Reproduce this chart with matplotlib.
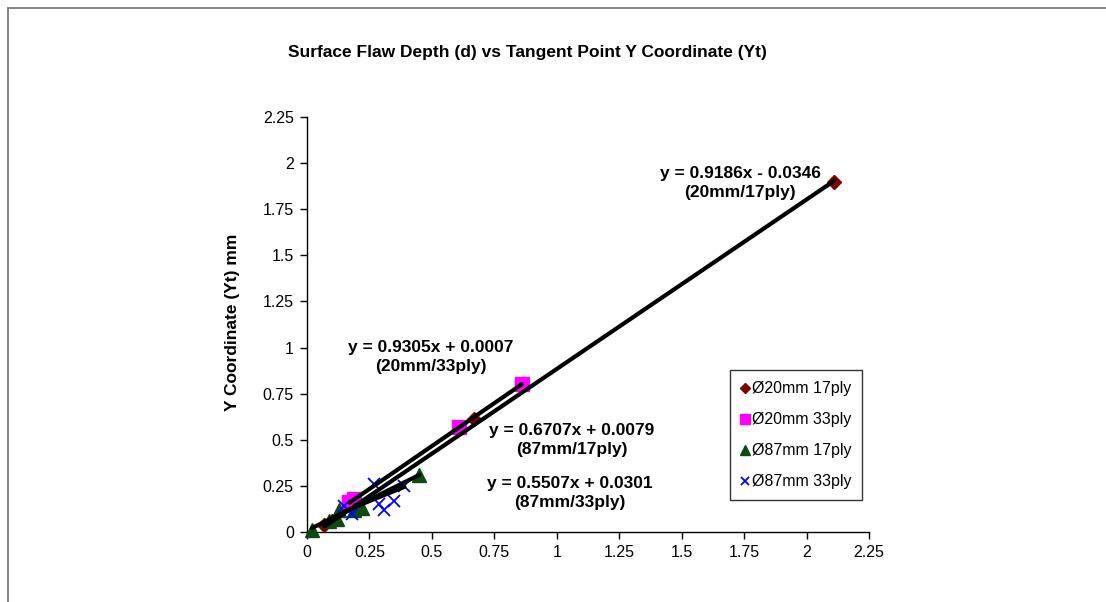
import matplotlib
matplotlib.use("Agg")
import matplotlib.pyplot as plt
from matplotlib.patches import Rectangle
import numpy as np

plt.rcParams['font.family'] = ['Liberation Sans', 'DejaVu Sans']

# Data
d20_17_x = [0.07, 0.10, 0.67, 2.11]
d20_17_y = [0.04, 0.06, 0.61, 1.90]
d20_33_x = [0.17, 0.19, 0.61, 0.86]
d20_33_y = [0.16, 0.18, 0.57, 0.80]
d87_17_x = [0.02, 0.09, 0.12, 0.13, 0.19, 0.22, 0.45]
d87_17_y = [0.01, 0.06, 0.07, 0.12, 0.12, 0.13, 0.31]
d87_33_x = [0.15, 0.18, 0.27, 0.29, 0.31, 0.35, 0.39]
d87_33_y = [0.14, 0.10, 0.26, 0.15, 0.12, 0.17, 0.25]

labels = ["Ø20mm 17ply", "Ø20mm 33ply", "Ø87mm 17ply", "Ø87mm 33ply"]
slopes = [0.9186, 0.9305, 0.6707, 0.5507]
intercepts = [-0.0346, 0.0007, 0.0079, 0.0301]
eq_texts = ["y = 0.9186x - 0.0346\n(20mm/17ply)",
            "y = 0.9305x + 0.0007\n(20mm/33ply)",
            "y = 0.6707x + 0.0079\n(87mm/17ply)",
            "y = 0.5507x + 0.0301\n(87mm/33ply)"]
ticks = [0, 0.25, 0.5, 0.75, 1, 1.25, 1.5, 1.75, 2, 2.25]
tick_labels = ["0", "0.25", "0.5", "0.75", "1", "1.25", "1.5", "1.75", "2", "2.25"]

W, H = 1106, 602
fig = plt.figure(figsize=(W / 100, H / 100), dpi=100)
fig.patch.set_facecolor('white')

# outer frame (partially visible)
fig.add_artist(Rectangle((8 / W, -0.1), 1.2, 1 - 8 / H + 0.1, transform=fig.transFigure,
                         fill=False, edgecolor='#7a7a7a', lw=1.3))

ax = fig.add_axes([307 / W, 1 - 532 / H, (869 - 307) / W, (532 - 117) / H])
ax.set_xlim(0, 2.25)
ax.set_ylim(0, 2.25)
for s in ['top', 'right']:
    ax.spines[s].set_visible(False)
for s in ['left', 'bottom']:
    ax.spines[s].set_linewidth(1.0)
    ax.spines[s].set_color('black')
ax.set_xticks(ticks)
ax.set_xticklabels(tick_labels)
ax.set_yticks(ticks)
ax.set_yticklabels(tick_labels)
ax.tick_params(direction='out', length=5, width=1, labelsize=11.5, pad=4.5)
ax.patch.set_alpha(0)

series = [
    (d20_17_x, d20_17_y, dict(marker='D', color='#800000', ms=7.5, ls='none')),
    (d20_33_x, d20_33_y, dict(marker='s', color='#FF00FF', ms=9.5, ls='none')),
    (d87_17_x, d87_17_y, dict(marker='^', color='#0d4a10', ms=10, ls='none')),
    (d87_33_x, d87_33_y, dict(marker='x', color='#0000FF', ms=9, mew=1.3, ls='none')),
]
handles = []
for (x, y, st), lab in zip(series, labels):
    h, = ax.plot(x, y, label=lab, clip_on=False, zorder=3, **st)
    handles.append(h)

for (x, y, st), m, b in zip(series, slopes, intercepts):
    xs = np.array([min(x), max(x)])
    ax.plot(xs, m * xs + b, color='black', lw=3.0, zorder=4, solid_capstyle='round')

fig.text(527 / W, 1 - 52 / H, "Surface Flaw Depth (d) vs Tangent Point Y Coordinate (Yt)",
         ha='center', va='center', fontsize=12.5, fontweight='bold')
fig.text(233 / W, 1 - 322 / H, "Y Coordinate (Yt) mm", rotation=90,
         ha='center', va='center', fontsize=12.5, fontweight='bold')

eq_pos = [(740, 183), (431, 357), (572, 440), (570, 493)]
for (px, py), t in zip(eq_pos, eq_texts):
    fig.text(px / W, 1 - py / H, t, ha='center', va='center', fontsize=12.5,
             fontweight='bold', linespacing=1.3)

leg = fig.legend(handles=handles, labels=labels, loc='upper left',
                 bbox_to_anchor=(730 / W, 1 - 370 / H), frameon=True, fancybox=False,
                 fontsize=11.5, handlelength=0.5, handletextpad=0.15, labelspacing=1.0,
                 borderpad=0.7, markerscale=0.7, borderaxespad=0)
leg.get_frame().set_edgecolor('black')
leg.get_frame().set_linewidth(1.0)

fig.savefig("out.png", dpi=100, facecolor='white')
